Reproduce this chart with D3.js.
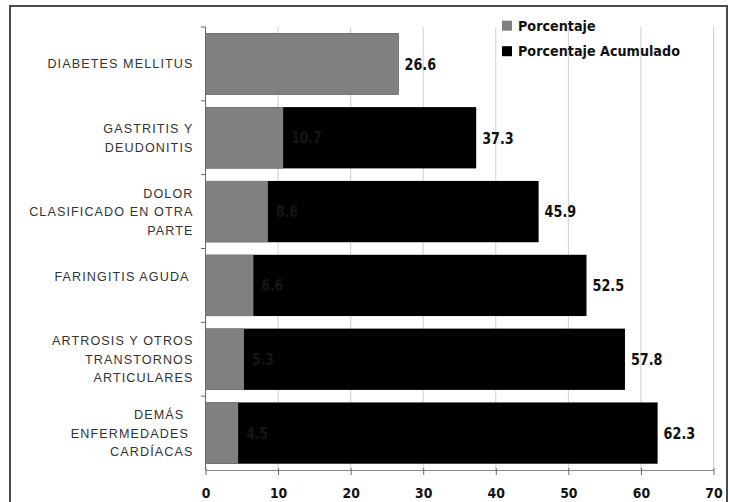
<!DOCTYPE html>
<html>
<head>
<meta charset="utf-8">
<script src="https://cdn.jsdelivr.net/npm/d3@7"></script>
<style>
  html, body { margin: 0; padding: 0; background: #fff; }
  svg { display: block; }
</style>
</head>
<body>
<svg id="chart" width="730" height="502"></svg>
<script>
// Causes of consultation, with individual and cumulative share (%)
const categories = [
  "DIABETES MELLITUS",
  "GASTRITIS Y\nDEUDONITIS",
  "DOLOR\nCLASIFICADO EN OTRA\nPARTE",
  "FARINGITIS AGUDA \n",
  "ARTROSIS Y OTROS\nTRANSTORNOS\nARTICULARES",
  "DEMÁS  \nENFERMEDADES \nCARDÍACAS"
];
const porcentaje = [26.6, 10.7, 8.6, 6.6, 5.3, 4.5];
const acumulado = [26.6, 37.3, 45.9, 52.5, 57.8, 62.3];
const xTicks = [0, 10, 20, 30, 40, 50, 60, 70];
const seriesNames = ["Porcentaje", "Porcentaje Acumulado"];
const seriesColors = ["#808080", "#000000"];

const svg = d3.select("#chart");

const plot = { left: 205.5, right: 713.5, top: 27, bottom: 470 };

const x = d3.scaleLinear().domain([0, 70]).range([plot.left, plot.right]);
const y = d3.scaleBand()
  .domain(categories)
  .range([plot.top, plot.bottom])
  .paddingInner(0.17)
  .paddingOuter(0.085);

const rows = categories.map((c, i) => ({ cat: c, pct: porcentaje[i], cum: acumulado[i] }));

// outer frame
svg.append("rect")
  .attr("x", 10).attr("y", 6)
  .attr("width", 717).attr("height", 520)
  .attr("fill", "none")
  .attr("stroke", "#4a4a4a")
  .attr("stroke-width", 2);

// vertical gridlines
svg.append("g").selectAll("line")
  .data(xTicks.slice(1))
  .join("line")
  .attr("x1", d => x(d)).attr("x2", d => x(d))
  .attr("y1", plot.top).attr("y2", plot.bottom)
  .attr("stroke", "#cfcfcf")
  .attr("stroke-width", 1);

// cumulative bars (black), then individual share (gray) on top
const bars = svg.append("g");
bars.selectAll("rect.cum")
  .data(rows)
  .join("rect")
  .attr("class", "cum")
  .attr("x", x(0))
  .attr("y", d => y(d.cat))
  .attr("width", d => x(d.cum) - x(0))
  .attr("height", y.bandwidth())
  .attr("fill", seriesColors[1]);

bars.selectAll("rect.pct")
  .data(rows)
  .join("rect")
  .attr("class", "pct")
  .attr("x", x(0))
  .attr("y", d => y(d.cat))
  .attr("width", d => x(d.pct) - x(0))
  .attr("height", y.bandwidth())
  .attr("fill", seriesColors[0]);

// helper: horizontally condensed bold text
function condensed(sel, size, sx, anchor, fill) {
  return sel.append("text")
    .attr("transform", `scale(${sx},1)`)
    .attr("text-anchor", anchor)
    .attr("font-family", "'DejaVu Sans', Verdana, sans-serif")
    .attr("font-weight", "bold")
    .attr("font-size", size)
    .attr("fill", fill);
}

// faint share labels inside the black bars
rows.filter(d => d.cum > d.pct).forEach(d => {
  const g = svg.append("g")
    .attr("transform", `translate(${x(d.pct) + 8},${y(d.cat) + y.bandwidth() / 2 + 5.5})`);
  condensed(g, 15, 0.82, "start", "#161616").text(d.pct.toFixed(1));
});

// cumulative value labels
rows.forEach(d => {
  const g = svg.append("g")
    .attr("transform", `translate(${x(d.cum) + 6},${y(d.cat) + y.bandwidth() / 2 + 5.8})`);
  condensed(g, 16, 0.8, "start", "#111").text(d.cum.toFixed(1));
});

// x axis
const xAxis = svg.append("g")
  .attr("transform", `translate(0,${plot.bottom})`)
  .call(d3.axisBottom(x).tickValues(xTicks).tickSizeInner(5).tickSizeOuter(0).tickPadding(0));
xAxis.select(".domain").attr("stroke", "#8a8a8a");
xAxis.selectAll(".tick line").attr("stroke", "#6a6a6a").attr("y1", -2);
xAxis.selectAll(".tick text").remove();
xAxis.selectAll(".tick").each(function (d) {
  condensed(d3.select(this).append("g").attr("transform", "translate(0,28.3)"), 14, 0.89, "middle", "#111")
    .text(d);
});

// y axis line with ticks at category boundaries
const step = y.step();
const bounds = categories.map(c => y(c) - step * y.paddingInner() / 2).concat([plot.bottom]);
const yAxis = svg.append("g");
yAxis.append("line")
  .attr("x1", x(0)).attr("x2", x(0))
  .attr("y1", plot.top).attr("y2", plot.bottom)
  .attr("stroke", "#6a6a6a");
yAxis.selectAll("line.tk")
  .data(bounds.slice(0, -1))
  .join("line")
  .attr("class", "tk")
  .attr("x1", x(0) - 4.5).attr("x2", x(0))
  .attr("y1", d => d).attr("y2", d => d)
  .attr("stroke", "#6a6a6a");

// category labels (multi-line, right aligned)
const lineH = 18.5;
const catFont = 12.6;
rows.forEach(d => {
  const lines = d.cat.split("\n");
  const cy = y(d.cat) + y.bandwidth() / 2;
  const t = svg.append("text")
    .attr("text-anchor", "end")
    .attr("font-family", "'Liberation Sans', Arial, sans-serif")
    .attr("font-size", catFont)
    .attr("letter-spacing", "1.1px")
    .attr("fill", "#333")
    .style("white-space", "pre");
  lines.forEach((ln, i) => {
    t.append("tspan")
      .attr("x", 193.5)
      .attr("y", cy + (i - (lines.length - 1) / 2) * lineH + catFont * 0.358)
      .text(ln);
  });
});

// legend
const legend = svg.append("g");
seriesNames.forEach((name, i) => {
  const ly = 20.7 + i * 25.5;
  legend.append("rect")
    .attr("x", 502).attr("y", ly)
    .attr("width", 10).attr("height", 10)
    .attr("fill", seriesColors[i]);
  const g = legend.append("g").attr("transform", `translate(518,${ly + 10})`);
  condensed(g, 14.7, 0.87, "start", "#111").text(name);
});
</script>
</body>
</html>
